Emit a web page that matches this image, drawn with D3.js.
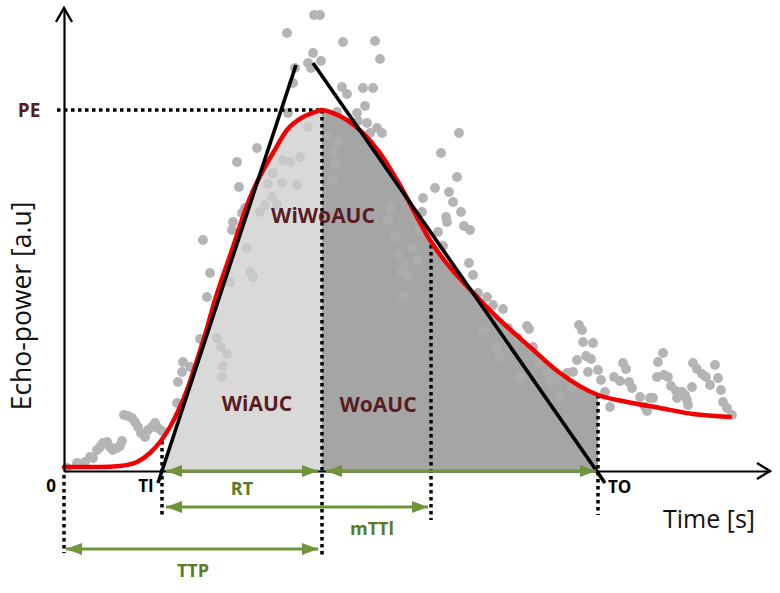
<!DOCTYPE html>
<html><head><meta charset="utf-8">
<script src="https://cdn.jsdelivr.net/npm/d3@7"></script>
<style>html,body{margin:0;padding:0;background:#fff;} svg{display:block;}</style>
</head><body>
<svg id="chart" width="780" height="593"></svg>
<script>
// ---- data (time in s, echo-power in a.u.) ----
const scatterTime = [
0.3,1.3,2.1,2.6,2.9,3.3,3.6,3.9,4.3,4.6,4.9,5.3,5.6,5.8,6.0,6.4,6.8,7.1,7.4,7.7,8.1,8.4,8.8,9.1,9.4,9.8,
11.3,11.4,11.8,11.9,12.6,13.6,15.3,15.7,16.3,15.9,15.8,14.3,14.6,13.9,16.6,16.8,16.9,17.8,18.1,18.3,18.6,18.9,
19.6,20.1,20.8,21.3,20.4,21.8,17.5,17.3,19.3,21.9,23.6,20.9,22.6,23.3,24.4,22.4,
25.0,25.6,22.3,27.9,31.1,31.6,24.9,24.4,25.7,24.7,23.1,22.9,27.8,28.3,29.9,30.9,30.1,29.3,29.4,30.3,31.3,31.8,30.6,27.3,
26.4,27.4,26.9,26.9,27.1,
39.5,37.7,39.3,37.1,38.5,35.9,38.9,35.8,39.7,38.2,38.3,40.0,40.6,37.4,37.9,40.5,40.9,41.4,42.3,42.9,43.9,44.4,45.4,46.3,46.5,46.9,
33.1,34.9,33.4,34.1,33.8,34.4,33.9,32.6,32.4,35.3,35.6,41.9,43.3,43.6,45.6,47.4,48.3,49.3,50.3,50.8,48.6,49.6,
51.5,51.8,51.9,52.9,52.2,52.7,51.3,50.9,52.4,53.4,53.7,54.1,54.6,55.9,56.2,55.0,55.6,56.5,56.8,57.6,58.6,58.9,58.1,58.3,
59.9,59.4,59.3,60.0,60.4,60.7,61.2,61.8,62.3,62.1,61.3,62.8,62.9,63.3,63.8,64.2,65.1,65.4,64.6,65.7,65.9,66.3,66.8,62.4
];
const scatterPower = [
0.3,0.8,0.9,1.4,1.3,2.1,2.4,2.8,2.9,2.4,2.1,2.3,2.5,3.0,5.6,5.5,5.3,4.9,4.4,3.8,3.4,4.1,4.4,4.8,4.3,4.0,
6.8,8.9,9.9,10.9,10.4,13.2,13.3,12.4,11.7,10.5,9.4,17.4,19.8,23.1,18.9,24.1,24.9,25.8,26.3,22.3,19.9,19.4,
25.9,26.6,27.4,26.6,28.7,28.8,28.4,30.9,32.3,31.1,31.4,29.8,30.9,28.6,34.4,35.8,
45.6,45.6,43.8,42.9,43.0,41.2,41.8,40.8,41.0,40.3,40.3,38.8,38.4,37.7,38.3,38.3,36.5,35.8,35.0,34.8,34.3,33.8,33.8,35.9,
33.5,32.9,31.9,29.1,30.8,
33.8,31.8,29.4,28.3,27.9,27.3,26.9,25.9,25.9,25.4,24.9,24.5,24.1,23.9,22.5,20.8,19.6,17.8,17.4,16.6,16.2,14.3,13.3,14.5,14.2,12.4,
23.4,22.3,21.6,20.6,19.9,19.4,17.4,26.3,25.1,21.1,24.1,14.1,12.4,11.4,9.4,10.8,9.8,9.3,9.8,8.4,8.8,7.4,
14.6,14.1,12.9,12.8,11.5,11.2,11.1,9.9,9.9,10.1,9.1,7.9,6.4,10.8,10.2,9.4,9.0,8.9,8.3,7.4,7.3,7.3,6.4,6.0,
11.8,10.9,9.4,9.6,9.4,8.5,8.0,7.9,7.1,7.6,7.3,8.4,10.8,10.2,9.7,9.4,10.6,9.3,8.6,8.1,6.9,6.3,5.6,6.6
];
const fitTime  = [0,3.6,5.6,7.3,8.6,9.6,10.6,11.6,12.3,13.4,14.1,15.1,16.8,18.5,19.4,20.9,22.3,23.9,25.1,25.8,26.6,28.3,29.9,31.6,33.3,36.6,41.6,43.9,46.6,49.6,53.4,56.3,59.6,62.9,66.6];
const fitPower = [0.4,0.4,0.5,0.9,1.8,2.9,4.4,6.4,8.1,11.4,13.6,17.1,22.1,27.1,29.1,31.8,34.1,35.4,35.9,36.1,35.9,35.1,33.8,31.8,29.1,23.1,17.1,14.8,12.4,9.8,7.6,6.9,6.3,5.7,5.4];
const riseTangentTime = [9.4, 23.2], riseTangentPower = [-1.2, 40.6];
const fallTangentTime = [24.9, 54.1], fallTangentPower = [40.8, -1.2];
const TI = 9.8, TTP = 25.8, MTTI = 36.7, TO = 53.4, PE = 36.1;
const xMax = 70.6, yMax = 46.3;

// ---- scales ----
const x = d3.scaleLinear().domain([0, xMax]).range([64, 770]);
const y = d3.scaleLinear().domain([0, yMax]).range([471, 8]);
const svg = d3.select("#chart");
const FONT = "'Open Sans', 'DejaVu Sans', sans-serif";
const maroon = "#5a1c22", green = "#70943a", greenText = "#5a7a2a";

const fitPts = fitTime.map((t, i) => [t, fitPower[i]]);
const area = d3.area().x(d => x(d[0])).y0(y(0)).y1(d => y(d[1])).curve(d3.curveMonotoneX);
const line = d3.line().x(d => x(d[0])).y(d => y(d[1])).curve(d3.curveMonotoneX);

// clip paths
const defs = svg.append("defs");
const riseX = p => riseTangentTime[0] + (p - riseTangentPower[0]) * (riseTangentTime[1] - riseTangentTime[0]) / (riseTangentPower[1] - riseTangentPower[0]);
const lightPoly = [[TI, 0], [riseX(yMax), yMax], [TTP, yMax], [TTP, 0]];
defs.append("clipPath").attr("id", "clipLight").append("path")
  .attr("d", d3.line().x(d => x(d[0])).y(d => y(d[1]))(lightPoly) + "Z");
defs.append("clipPath").attr("id", "clipDark").append("rect")
  .attr("x", x(TTP)).attr("y", y(yMax)).attr("width", x(TO) - x(TTP)).attr("height", y(0) - y(yMax));
const mk = defs.append("marker").attr("id", "gh").attr("viewBox", "0 0 16 12")
  .attr("refX", 16).attr("refY", 6).attr("markerWidth", 16).attr("markerHeight", 12)
  .attr("markerUnits", "userSpaceOnUse").attr("orient", "auto-start-reverse");
mk.append("path").attr("d", "M0,0L16,6L0,12Z").attr("fill", green);

function fills(op) {
  svg.append("path").datum(fitPts).attr("d", area).attr("fill", "#d9d9d9").attr("opacity", op).attr("clip-path", "url(#clipLight)");
  svg.append("path").datum(fitPts).attr("d", area).attr("fill", "#a5a5a5").attr("opacity", op).attr("clip-path", "url(#clipDark)");
}
fills(1);
// scatter
svg.append("g").selectAll("circle").data(scatterTime).join("circle")
  .attr("cx", d => x(d)).attr("cy", (d, i) => y(scatterPower[i])).attr("r", 4.9).attr("fill", "#b4b4b4");
fills(0.55);

// dotted guides
const dot = { stroke: "#000", "stroke-width": 3.5, "stroke-dasharray": "3.5 3.5" };
function dline(x1, y1, x2, y2) {
  const l = svg.append("line").attr("x1", x(x1)).attr("y1", y(y1)).attr("x2", x(x2)).attr("y2", y(y2));
  Object.entries(dot).forEach(([k, v]) => l.attr(k, v));
}
dline(-0.7, PE, TTP, PE);
dline(0, -0.4, 0, -8.2);
dline(TI, 3.0, TI, -4.6);
dline(TTP, PE, TTP, -8.4);
dline(MTTI, 22.6, MTTI, -4.9);
dline(TO, 7.6, TO, -4.4);

// fitted curve
svg.append("path").datum(fitPts).attr("d", line).attr("fill", "none")
  .attr("stroke", "#f00000").attr("stroke-width", 4.5).attr("stroke-linecap", "round");
// tangents
svg.append("line").attr("x1", x(riseTangentTime[0])).attr("y1", y(riseTangentPower[0]))
  .attr("x2", x(riseTangentTime[1])).attr("y2", y(riseTangentPower[1])).attr("stroke", "#000").attr("stroke-width", 3.6);
svg.append("line").attr("x1", x(fallTangentTime[0])).attr("y1", y(fallTangentPower[0]))
  .attr("x2", x(fallTangentTime[1])).attr("y2", y(fallTangentPower[1])).attr("stroke", "#000").attr("stroke-width", 3.6);

// axes
const gx = svg.append("g").attr("transform", `translate(0,${y(0)})`)
  .call(d3.axisBottom(x).tickValues([]).tickSizeOuter(0));
gx.select(".domain").attr("stroke", "#000").attr("stroke-width", 2.2);
const gy = svg.append("g").attr("transform", `translate(${x(0)},0)`)
  .call(d3.axisLeft(y).tickValues([]).tickSizeOuter(0));
gy.select(".domain").attr("stroke", "#000").attr("stroke-width", 2.2);
svg.append("path").attr("d", `M${x(xMax) - 13},${y(0) - 8}L${x(xMax)},${y(0)}L${x(xMax) - 13},${y(0) + 8}`)
  .attr("fill", "none").attr("stroke", "#000").attr("stroke-width", 2.4);
svg.append("path").attr("d", `M${x(0) - 8},${y(yMax) + 14}L${x(0)},${y(yMax)}L${x(0) + 8},${y(yMax) + 14}`)
  .attr("fill", "none").attr("stroke", "#000").attr("stroke-width", 2.4);

// green double arrows
function garrow(t1, t2, p, o1, o2) {
  svg.append("line").attr("x1", x(t1) + o1).attr("x2", x(t2) - o2).attr("y1", y(p)).attr("y2", y(p))
    .attr("stroke", green).attr("stroke-width", 3)
    .attr("marker-start", "url(#gh)").attr("marker-end", "url(#gh)");
}
garrow(TI, TTP, 0, 4, 4);
garrow(TTP, TO, 0, 4, 2);
garrow(TI, MTTI, -3.6, 4, 3);
garrow(0, TTP, -7.8, 2, 4);

// texts
function txt(s, px, py, opt) {
  const t = svg.append("text").attr("x", px).attr("y", py).text(s)
    .attr("font-family", FONT).attr("font-size", opt.size).attr("font-weight", opt.weight || 700)
    .attr("fill", opt.color || "#000").attr("text-anchor", opt.anchor || "middle");
  if (opt.rotate) t.attr("transform", `rotate(-90,${px},${py})`);
  return t;
}
txt("PE", 29, y(PE) + 7, { size: 19, color: maroon });
txt("0", 51, 492, { size: 17 });
txt("TI", x(TI) - 16, 492, { size: 17 });
txt("TO", x(TO) + 10, 493, { size: 17, anchor: "start" });
txt("Time [s]", 663, 528, { size: 25, weight: 400, anchor: "start", color: "#111" });
txt("Echo-power [a.u]", 31, 306, { size: 26.5, weight: 400, rotate: true, color: "#111" });
txt("WiWoAUC", x(TTP) + 1, 223, { size: 21, color: maroon });
txt("WiAUC", 257, 411, { size: 21, color: maroon });
txt("WoAUC", 378, 412, { size: 21, color: maroon });
txt("RT", (x(TI) + x(TTP)) / 2, 495, { size: 18, color: greenText });
txt("mTTl", 372, 535, { size: 18, color: greenText });
txt("TTP", (x(0) + x(TTP)) / 2, 577, { size: 18, color: greenText });
</script>
</body></html>
